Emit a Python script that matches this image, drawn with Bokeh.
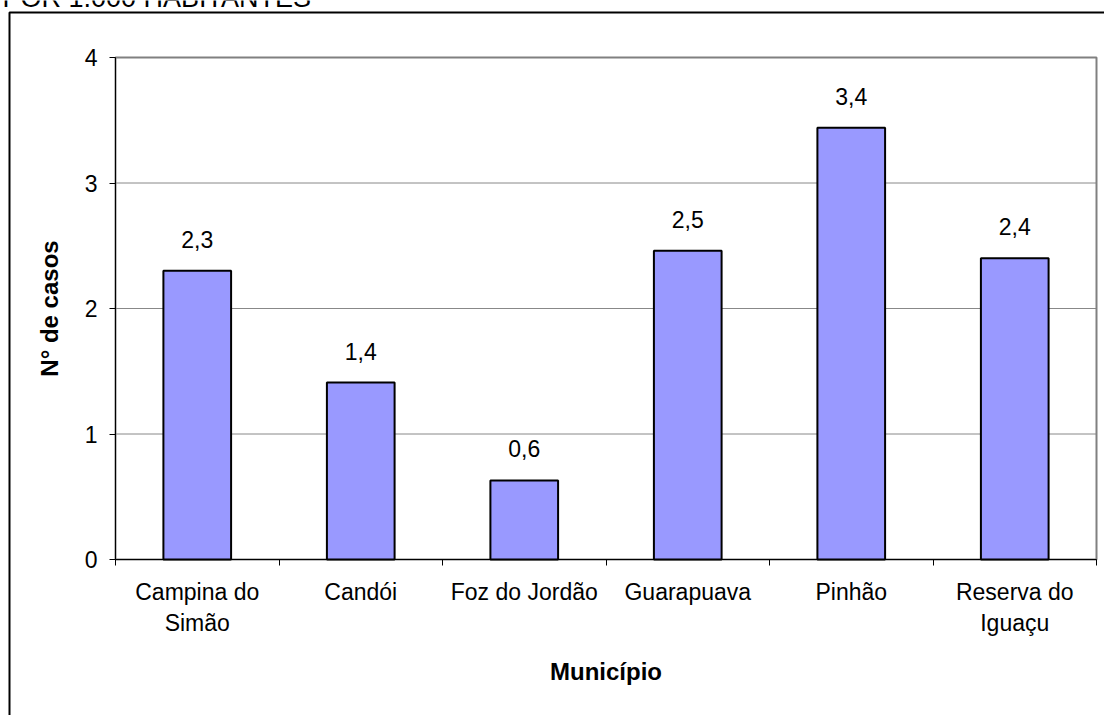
import numpy as np
from bokeh.plotting import figure
from bokeh.models import ColumnDataSource, LabelSet, Label, Range1d, FixedTicker
from bokeh.core.properties import value
from bokeh.embed import file_html
from bokeh.resources import INLINE

# ---- data ----
categories = ["Campina do\nSimão", "Candói", "Foz do Jordão", "Guarapuava", "Pinhão", "Reserva do\nIguaçu"]
values = [2.30, 1.41, 0.63, 2.46, 3.44, 2.40]
y_ticks = [0, 1, 2, 3, 4]
title_text = "POR 1.000 HABITANTES"
x_title = "Município"
y_title = "N° de casos"

FONT = "Liberation Sans"
W, H = 1104, 715
# pixel geometry of the plotting area inside the canvas
PL, PR, PT, PB = 115, 1096, 57, 559
n = len(categories)
YMAX = y_ticks[-1]
sx = n / (PR - PL)
sy = YMAX / (PB - PT)

def dx(px):
    return (px - PL) * sx

def dy(py):
    return (PB - py) * sy

x_idx = np.arange(n) + 0.5
value_labels = [f"{v:.1f}".replace(".", ",") for v in values]

p = figure(width=W, height=H, output_backend="svg", toolbar_location=None,
           title=None,
           x_range=Range1d(dx(0), dx(W)), y_range=Range1d(dy(H), dy(0)),
           min_border=0, min_border_left=0, min_border_right=0,
           min_border_top=0, min_border_bottom=0)
p.background_fill_color = "white"
p.border_fill_color = "white"
p.outline_line_color = None

# outer chart border
p.line(x=[dx(9), dx(9), dx(W + 20)], y=[dy(H + 20), dy(12), dy(12)],
       line_color="black", line_width=2)

# horizontal grid lines limited to the plotting area
grid_y = y_ticks[1:-1]
p.segment(x0=[0] * len(grid_y), x1=[n] * len(grid_y), y0=grid_y, y1=grid_y,
          line_color="#888888", line_width=1)

# plot-area frame (grey)
p.quad(left=[0], right=[n], bottom=[0], top=[YMAX], fill_color=None,
       line_color="#808080", line_width=2)

src = ColumnDataSource(dict(x=x_idx, top=values, lab=value_labels))
p.vbar(x="x", top="top", width=0.414, source=src, fill_color="#9999ff",
       line_color="black", line_width=2)

# x axis: labels at category centres, tick marks at category boundaries
p.xaxis.fixed_location = 0
p.xaxis.bounds = (0, n)
p.xaxis.ticker = FixedTicker(ticks=list(x_idx), minor_ticks=list(range(n + 1)))
p.xaxis.major_label_overrides = {float(x): c for x, c in zip(x_idx, categories)}
p.xaxis.major_label_text_font = FONT
p.xaxis.major_label_text_font_size = "23px"
p.xaxis.major_label_text_color = "black"
p.xaxis.major_label_standoff = 13
p.xaxis.major_tick_out = 0
p.xaxis.major_tick_in = 0
p.xaxis.minor_tick_out = 6
p.xaxis.minor_tick_in = 0
p.xaxis.minor_tick_line_color = "black"
p.xaxis.axis_line_color = "black"
p.xaxis.axis_label = x_title
p.xaxis.axis_label_text_font = FONT
p.xaxis.axis_label_text_font_size = "24px"
p.xaxis.axis_label_text_font_style = "bold"
p.xaxis.axis_label_text_color = "black"
p.xaxis.axis_label_standoff = 19

p.yaxis.fixed_location = 0
p.yaxis.bounds = (0, YMAX)
p.yaxis.ticker = FixedTicker(ticks=y_ticks)
p.yaxis.major_label_text_font = FONT
p.yaxis.major_label_text_font_size = "23px"
p.yaxis.major_label_text_color = "black"
p.yaxis.major_label_standoff = 12
p.yaxis.major_tick_out = 6
p.yaxis.major_tick_in = 0
p.yaxis.minor_tick_line_color = None
p.yaxis.axis_line_color = "black"
p.yaxis.major_tick_line_color = "black"
p.yaxis.axis_label = y_title
p.yaxis.axis_label_text_font = FONT
p.yaxis.axis_label_text_font_size = "24px"
p.yaxis.axis_label_text_font_style = "bold"
p.yaxis.axis_label_text_color = "black"
p.yaxis.axis_label_standoff = 19

p.xgrid.visible = False
p.ygrid.visible = False

# value labels
p.add_layout(LabelSet(x="x", y="top", text="lab", source=src, y_offset=23,
                      text_align="center", text_baseline="alphabetic",
                      text_font=value(FONT), text_font_size="23px", text_color="black"))

# chart title (cut by the top edge, as in the original)
p.add_layout(Label(x=dx(2), y=dy(-3), text=title_text, text_align="left",
                   text_baseline="alphabetic", text_font=FONT,
                   text_font_size="27px", text_color="black"))

open("out.html", "w").write(file_html(p, INLINE))
